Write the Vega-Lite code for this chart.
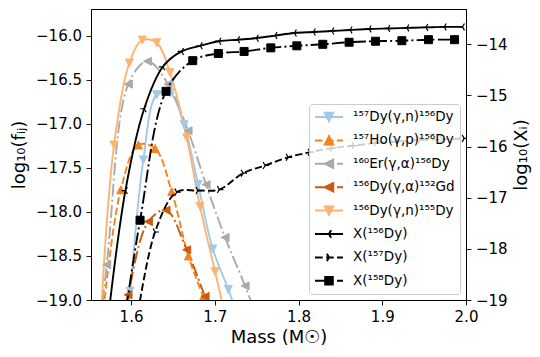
{
  "$schema": "https://vega.github.io/schema/vega-lite/v6.json",
  "width": 375,
  "height": 291,
  "autosize": {"type": "none"},
  "padding": {"left": 91, "top": 9, "right": 74, "bottom": 57},
  "background": "white",
  "config": {
    "view": {"stroke": "black", "strokeWidth": 1},
    "font": "DejaVu Sans",
    "axis": {
      "labelFont": "DejaVu Sans", "titleFont": "DejaVu Sans",
      "labelFontSize": 15, "titleFontSize": 18, "titleFontWeight": "normal",
      "labelColor": "black", "titleColor": "black",
      "tickColor": "black", "domainColor": "black",
      "tickSize": 5, "tickWidth": 0.9, "domainWidth": 1,
      "labelPadding": 4.5, "grid": false, "labelFlush": false, "labelOverlap": false
    }
  },
  "datasets": {
    "reactions": [
      {"series": "¹⁵⁷Dy(γ,n)¹⁵⁶Dy", "mass": 1.5828, "logf": -20.4},
      {"series": "¹⁵⁷Dy(γ,n)¹⁵⁶Dy", "mass": 1.5988, "logf": -18.90},
      {"series": "¹⁵⁷Dy(γ,n)¹⁵⁶Dy", "mass": 1.6147, "logf": -17.41},
      {"series": "¹⁵⁷Dy(γ,n)¹⁵⁶Dy", "mass": 1.6307, "logf": -16.67},
      {"series": "¹⁵⁷Dy(γ,n)¹⁵⁶Dy", "mass": 1.6466, "logf": -16.65},
      {"series": "¹⁵⁷Dy(γ,n)¹⁵⁶Dy", "mass": 1.6633, "logf": -17.01},
      {"series": "¹⁵⁷Dy(γ,n)¹⁵⁶Dy", "mass": 1.6801, "logf": -17.69},
      {"series": "¹⁵⁷Dy(γ,n)¹⁵⁶Dy", "mass": 1.6976, "logf": -18.42},
      {"series": "¹⁵⁷Dy(γ,n)¹⁵⁶Dy", "mass": 1.7162, "logf": -18.88},
      {"series": "¹⁵⁷Dy(γ,n)¹⁵⁶Dy", "mass": 1.734, "logf": -19.38},

      {"series": "¹⁵⁷Ho(γ,p)¹⁵⁶Dy", "mass": 1.5671, "logf": -19.11},
      {"series": "¹⁵⁷Ho(γ,p)¹⁵⁶Dy", "mass": 1.5877, "logf": -17.75},
      {"series": "¹⁵⁷Ho(γ,p)¹⁵⁶Dy", "mass": 1.6087, "logf": -17.24},
      {"series": "¹⁵⁷Ho(γ,p)¹⁵⁶Dy", "mass": 1.6287, "logf": -17.28},
      {"series": "¹⁵⁷Ho(γ,p)¹⁵⁶Dy", "mass": 1.6486, "logf": -17.77},
      {"series": "¹⁵⁷Ho(γ,p)¹⁵⁶Dy", "mass": 1.6685, "logf": -18.50},
      {"series": "¹⁵⁷Ho(γ,p)¹⁵⁶Dy", "mass": 1.6864, "logf": -18.96},
      {"series": "¹⁵⁷Ho(γ,p)¹⁵⁶Dy", "mass": 1.7063, "logf": -19.39},

      {"series": "¹⁶⁰Er(γ,α)¹⁵⁶Dy", "mass": 1.5474, "logf": -20.7},
      {"series": "¹⁶⁰Er(γ,α)¹⁵⁶Dy", "mass": 1.571, "logf": -18.60},
      {"series": "¹⁶⁰Er(γ,α)¹⁵⁶Dy", "mass": 1.5968, "logf": -16.55},
      {"series": "¹⁶⁰Er(γ,α)¹⁵⁶Dy", "mass": 1.6197, "logf": -16.29},
      {"series": "¹⁶⁰Er(γ,α)¹⁵⁶Dy", "mass": 1.6442, "logf": -16.55},
      {"series": "¹⁶⁰Er(γ,α)¹⁵⁶Dy", "mass": 1.6681, "logf": -17.08},
      {"series": "¹⁶⁰Er(γ,α)¹⁵⁶Dy", "mass": 1.6896, "logf": -17.69},
      {"series": "¹⁶⁰Er(γ,α)¹⁵⁶Dy", "mass": 1.7123, "logf": -18.29},
      {"series": "¹⁶⁰Er(γ,α)¹⁵⁶Dy", "mass": 1.7362, "logf": -18.84},
      {"series": "¹⁶⁰Er(γ,α)¹⁵⁶Dy", "mass": 1.7601, "logf": -19.45},

      {"series": "¹⁵⁶Dy(γ,α)¹⁵²Gd", "mass": 1.5737, "logf": -20.0},
      {"series": "¹⁵⁶Dy(γ,α)¹⁵²Gd", "mass": 1.5964, "logf": -18.94},
      {"series": "¹⁵⁶Dy(γ,α)¹⁵²Gd", "mass": 1.6207, "logf": -18.11},
      {"series": "¹⁵⁶Dy(γ,α)¹⁵²Gd", "mass": 1.6418, "logf": -17.98},
      {"series": "¹⁵⁶Dy(γ,α)¹⁵²Gd", "mass": 1.6665, "logf": -18.43},
      {"series": "¹⁵⁶Dy(γ,α)¹⁵²Gd", "mass": 1.6884, "logf": -18.96},
      {"series": "¹⁵⁶Dy(γ,α)¹⁵²Gd", "mass": 1.7111, "logf": -19.51},

      {"series": "¹⁵⁶Dy(γ,n)¹⁵⁵Dy", "mass": 1.5625, "logf": -19.42},
      {"series": "¹⁵⁶Dy(γ,n)¹⁵⁵Dy", "mass": 1.5797, "logf": -17.24},
      {"series": "¹⁵⁶Dy(γ,n)¹⁵⁵Dy", "mass": 1.598, "logf": -16.31},
      {"series": "¹⁵⁶Dy(γ,n)¹⁵⁵Dy", "mass": 1.6135, "logf": -16.05},
      {"series": "¹⁵⁶Dy(γ,n)¹⁵⁵Dy", "mass": 1.6307, "logf": -16.08},
      {"series": "¹⁵⁶Dy(γ,n)¹⁵⁵Dy", "mass": 1.6466, "logf": -16.42},
      {"series": "¹⁵⁶Dy(γ,n)¹⁵⁵Dy", "mass": 1.6665, "logf": -17.16},
      {"series": "¹⁵⁶Dy(γ,n)¹⁵⁵Dy", "mass": 1.6824, "logf": -17.94},
      {"series": "¹⁵⁶Dy(γ,n)¹⁵⁵Dy", "mass": 1.7004, "logf": -18.68},
      {"series": "¹⁵⁶Dy(γ,n)¹⁵⁵Dy", "mass": 1.7171, "logf": -19.37}
    ],
    "abundances": [
      {"series": "X(¹⁵⁶Dy)", "mass": 1.5711, "logX": -19.58},
      {"series": "X(¹⁵⁶Dy)", "mass": 1.5933, "logX": -16.86},
      {"series": "X(¹⁵⁶Dy)", "mass": 1.6157, "logX": -15.26},
      {"series": "X(¹⁵⁶Dy)", "mass": 1.638, "logX": -14.44},
      {"series": "X(¹⁵⁶Dy)", "mass": 1.6603, "logX": -14.14},
      {"series": "X(¹⁵⁶Dy)", "mass": 1.6827, "logX": -14.03},
      {"series": "X(¹⁵⁶Dy)", "mass": 1.705, "logX": -13.94},
      {"series": "X(¹⁵⁶Dy)", "mass": 1.7274, "logX": -13.91},
      {"series": "X(¹⁵⁶Dy)", "mass": 1.7497, "logX": -13.88},
      {"series": "X(¹⁵⁶Dy)", "mass": 1.772, "logX": -13.83},
      {"series": "X(¹⁵⁶Dy)", "mass": 1.7951, "logX": -13.78},
      {"series": "X(¹⁵⁶Dy)", "mass": 1.8178, "logX": -13.76},
      {"series": "X(¹⁵⁶Dy)", "mass": 1.8398, "logX": -13.74},
      {"series": "X(¹⁵⁶Dy)", "mass": 1.8616, "logX": -13.72},
      {"series": "X(¹⁵⁶Dy)", "mass": 1.8843, "logX": -13.70},
      {"series": "X(¹⁵⁶Dy)", "mass": 1.9067, "logX": -13.69},
      {"series": "X(¹⁵⁶Dy)", "mass": 1.9294, "logX": -13.68},
      {"series": "X(¹⁵⁶Dy)", "mass": 1.9521, "logX": -13.67},
      {"series": "X(¹⁵⁶Dy)", "mass": 1.974, "logX": -13.66},
      {"series": "X(¹⁵⁶Dy)", "mass": 1.9958, "logX": -13.66},

      {"series": "X(¹⁵⁷Dy)", "mass": 1.6027, "logX": -19.84},
      {"series": "X(¹⁵⁷Dy)", "mass": 1.6287, "logX": -17.67},
      {"series": "X(¹⁵⁷Dy)", "mass": 1.6546, "logX": -16.89},
      {"series": "X(¹⁵⁷Dy)", "mass": 1.68, "logX": -16.86},
      {"series": "X(¹⁵⁷Dy)", "mass": 1.7055, "logX": -16.84},
      {"series": "X(¹⁵⁷Dy)", "mass": 1.7338, "logX": -16.52},
      {"series": "X(¹⁵⁷Dy)", "mass": 1.7601, "logX": -16.37},
      {"series": "X(¹⁵⁷Dy)", "mass": 1.7876, "logX": -16.21},
      {"series": "X(¹⁵⁷Dy)", "mass": 1.8139, "logX": -16.11},
      {"series": "X(¹⁵⁷Dy)", "mass": 1.8401, "logX": -16.03},
      {"series": "X(¹⁵⁷Dy)", "mass": 1.8664, "logX": -15.98},
      {"series": "X(¹⁵⁷Dy)", "mass": 1.8927, "logX": -15.93},
      {"series": "X(¹⁵⁷Dy)", "mass": 1.919, "logX": -15.90},
      {"series": "X(¹⁵⁷Dy)", "mass": 1.9453, "logX": -15.87},
      {"series": "X(¹⁵⁷Dy)", "mass": 1.9716, "logX": -15.86},
      {"series": "X(¹⁵⁷Dy)", "mass": 1.9978, "logX": -15.84},

      {"series": "X(¹⁵⁸Dy)", "mass": 1.5797, "logX": -20.8},
      {"series": "X(¹⁵⁸Dy)", "mass": 1.6108, "logX": -17.44},
      {"series": "X(¹⁵⁸Dy)", "mass": 1.6418, "logX": -14.92},
      {"series": "X(¹⁵⁸Dy)", "mass": 1.6737, "logX": -14.32},
      {"series": "X(¹⁵⁸Dy)", "mass": 1.7043, "logX": -14.18},
      {"series": "X(¹⁵⁸Dy)", "mass": 1.735, "logX": -14.14},
      {"series": "X(¹⁵⁸Dy)", "mass": 1.7669, "logX": -14.07},
      {"series": "X(¹⁵⁸Dy)", "mass": 1.798, "logX": -14.03},
      {"series": "X(¹⁵⁸Dy)", "mass": 1.829, "logX": -14.0},
      {"series": "X(¹⁵⁸Dy)", "mass": 1.8604, "logX": -13.96},
      {"series": "X(¹⁵⁸Dy)", "mass": 1.8919, "logX": -13.94},
      {"series": "X(¹⁵⁸Dy)", "mass": 1.9234, "logX": -13.93},
      {"series": "X(¹⁵⁸Dy)", "mass": 1.9552, "logX": -13.91},
      {"series": "X(¹⁵⁸Dy)", "mass": 1.9863, "logX": -13.91}
    ]
  },
  "layer": [
    {
      "data": {"name": "reactions"},
      "encoding": {
        "x": {"field": "mass", "type": "quantitative",
              "scale": {"domain": [1.5522, 2.0], "nice": false, "zero": false},
              "axis": {"values": [1.6, 1.7, 1.8, 1.9, 2.0], "format": ".1f", "title": "Mass (M☉)", "titlePadding": 4}},
        "y": {"field": "logf", "type": "quantitative",
              "scale": {"domain": [-19, -15.697], "nice": false, "zero": false},
              "axis": {"orient": "left", "values": [-19, -18.5, -18, -17.5, -17, -16.5, -16], "format": ".1f", "title": "log₁₀(fᵢⱼ)", "titlePadding": 7}}
      },
      "layer": [
        {
          "transform": [{"filter": {"field": "series", "equal": "¹⁵⁷Dy(γ,n)¹⁵⁶Dy"}}],
          "mark": {"type": "line", "clip": true, "strokeWidth": 1.9, "interpolate": "catmull-rom"},
          "encoding": {"color": {"field": "series", "type": "nominal",
            "scale": {
              "domain": ["¹⁵⁷Dy(γ,n)¹⁵⁶Dy", "¹⁵⁷Ho(γ,p)¹⁵⁶Dy", "¹⁶⁰Er(γ,α)¹⁵⁶Dy", "¹⁵⁶Dy(γ,α)¹⁵²Gd", "¹⁵⁶Dy(γ,n)¹⁵⁵Dy", "X(¹⁵⁶Dy)", "X(¹⁵⁷Dy)", "X(¹⁵⁸Dy)"],
              "range": ["#a1c9ea", "#f7821e", "#aaaaaa", "#cc5a0c", "#fdb472", "#000000", "#000000", "#000000"]
            },
            "legend": {
              "orient": "bottom-right", "offset": 6, "title": null,
              "labelFont": "DejaVu Sans", "labelFontSize": 13.5, "labelColor": "black",
              "symbolSize": 784, "symbolStrokeWidth": 2, "symbolOffset": 0, "labelOffset": 9,
              "padding": 5, "rowPadding": 7.4, "clipHeight": 16,
              "strokeColor": "#cccccc", "fillColor": "rgba(255,255,255,0.8)", "cornerRadius": 3,
              "encode": {"symbols": {"update": {
                "shape": {"signal": "['M-1,0L1,0M-0.3,-0.3L0.3,-0.3L0,0.3Z','M-1,0L-0.45,0M-0.214,0L0.336,0M0.572,0L1,0M0,-0.3L0.3,0.3L-0.3,0.3Z','M-1,0L-0.05,0M0.186,0L0.336,0M0.572,0L1,0M-0.3,0L0.3,-0.3L0.3,0.3Z','M-1,0L-0.05,0M0.186,0L0.336,0M0.572,0L1,0M-0.3,0L0.3,-0.3L0.3,0.3Z','M-1,0L1,0M-0.3,-0.3L0.3,-0.3L0,0.3Z','M-1,0L1,0M0,0L-0.3,0M0,0L0.15,-0.26M0,0L0.15,0.26','M-1,0L-0.45,0M-0.214,0L0.336,0M0.572,0L1,0M0,0L0.3,0M0,0L-0.15,-0.26M0,0L-0.15,0.26','M-1,0L-0.05,0M0.186,0L0.336,0M0.572,0L1,0M-0.27,-0.27L0.27,-0.27L0.27,0.27L-0.27,0.27Z'][indexof(['¹⁵⁷Dy(γ,n)¹⁵⁶Dy','¹⁵⁷Ho(γ,p)¹⁵⁶Dy','¹⁶⁰Er(γ,α)¹⁵⁶Dy','¹⁵⁶Dy(γ,α)¹⁵²Gd','¹⁵⁶Dy(γ,n)¹⁵⁵Dy','X(¹⁵⁶Dy)','X(¹⁵⁷Dy)','X(¹⁵⁸Dy)'], datum.value)]"},
                "fill": {"signal": "scale('color', datum.value)"},
                "stroke": {"signal": "scale('color', datum.value)"},
                "strokeWidth": {"value": 2},
                "size": {"value": 784},
                "opacity": {"value": 1},
                "fillOpacity": {"value": 1},
                "strokeOpacity": {"value": 1}
              }}}
            }}}
        },
        {
          "transform": [{"filter": {"field": "series", "equal": "¹⁵⁷Ho(γ,p)¹⁵⁶Dy"}}],
          "mark": {"type": "line", "clip": true, "strokeWidth": 1.9, "interpolate": "catmull-rom", "strokeDash": [7.4, 3.2]},
          "encoding": {"color": {"field": "series", "type": "nominal"}}
        },
        {
          "transform": [{"filter": {"field": "series", "equal": "¹⁶⁰Er(γ,α)¹⁵⁶Dy"}}],
          "mark": {"type": "line", "clip": true, "strokeWidth": 1.9, "interpolate": "catmull-rom", "strokeDash": [12.8, 3.2, 2, 3.2]},
          "encoding": {"color": {"field": "series", "type": "nominal"}}
        },
        {
          "transform": [{"filter": {"field": "series", "equal": "¹⁵⁶Dy(γ,α)¹⁵²Gd"}}],
          "mark": {"type": "line", "clip": true, "strokeWidth": 1.9, "interpolate": "catmull-rom", "strokeDash": [12.8, 3.2, 2, 3.2]},
          "encoding": {"color": {"field": "series", "type": "nominal"}}
        },
        {
          "transform": [{"filter": {"field": "series", "equal": "¹⁵⁶Dy(γ,n)¹⁵⁵Dy"}}],
          "mark": {"type": "line", "clip": true, "strokeWidth": 1.9, "interpolate": "catmull-rom"},
          "encoding": {"color": {"field": "series", "type": "nominal"}}
        },
        {
          "transform": [{"filter": {"field": "series", "equal": "¹⁵⁷Dy(γ,n)¹⁵⁶Dy"}}],
          "mark": {"type": "point", "clip": true, "filled": true, "opacity": 1, "size": 64, "shape": "M-1,-1L1,-1L0,1Z", "fill": "#a1c9ea", "stroke": "#a1c9ea", "strokeWidth": 1}
        },
        {
          "transform": [{"filter": {"field": "series", "equal": "¹⁵⁷Ho(γ,p)¹⁵⁶Dy"}}],
          "mark": {"type": "point", "clip": true, "filled": true, "opacity": 1, "size": 64, "shape": "M0,-1L1,1L-1,1Z", "fill": "#f7821e", "stroke": "#f7821e", "strokeWidth": 1}
        },
        {
          "transform": [{"filter": {"field": "series", "equal": "¹⁶⁰Er(γ,α)¹⁵⁶Dy"}}],
          "mark": {"type": "point", "clip": true, "filled": true, "opacity": 1, "size": 64, "shape": "M-1,0L1,-1L1,1Z", "fill": "#aaaaaa", "stroke": "#aaaaaa", "strokeWidth": 1}
        },
        {
          "transform": [{"filter": {"field": "series", "equal": "¹⁵⁶Dy(γ,α)¹⁵²Gd"}}],
          "mark": {"type": "point", "clip": true, "filled": true, "opacity": 1, "size": 64, "shape": "M-1,0L1,-1L1,1Z", "fill": "#cc5a0c", "stroke": "#cc5a0c", "strokeWidth": 1}
        },
        {
          "transform": [{"filter": {"field": "series", "equal": "¹⁵⁶Dy(γ,n)¹⁵⁵Dy"}}],
          "mark": {"type": "point", "clip": true, "filled": true, "opacity": 1, "size": 64, "shape": "M-1,-1L1,-1L0,1Z", "fill": "#fdb472", "stroke": "#fdb472", "strokeWidth": 1}
        }
      ]
    },
    {
      "data": {"name": "abundances"},
      "encoding": {
        "x": {"field": "mass", "type": "quantitative",
              "scale": {"domain": [1.5522, 2.0], "nice": false, "zero": false}},
        "y": {"field": "logX", "type": "quantitative",
              "scale": {"domain": [-19, -13.31], "nice": false, "zero": false},
              "axis": {"orient": "right", "values": [-19, -18, -17, -16, -15, -14], "format": "d", "title": "log₁₀(Xᵢ)", "titleAngle": 270, "titleBaseline": "top", "titlePadding": 5}}
      },
      "layer": [
        {
          "transform": [{"filter": {"field": "series", "equal": "X(¹⁵⁶Dy)"}}],
          "mark": {"type": "line", "clip": true, "strokeWidth": 1.9, "interpolate": "catmull-rom"},
          "encoding": {"color": {"field": "series", "type": "nominal"}}
        },
        {
          "transform": [{"filter": {"field": "series", "equal": "X(¹⁵⁷Dy)"}}],
          "mark": {"type": "line", "clip": true, "strokeWidth": 1.9, "interpolate": "catmull-rom", "strokeDash": [7.4, 3.2]},
          "encoding": {"color": {"field": "series", "type": "nominal"}}
        },
        {
          "transform": [{"filter": {"field": "series", "equal": "X(¹⁵⁸Dy)"}}],
          "mark": {"type": "line", "clip": true, "strokeWidth": 1.9, "interpolate": "catmull-rom", "strokeDash": [12.8, 3.2, 2, 3.2]},
          "encoding": {"color": {"field": "series", "type": "nominal"}}
        },
        {
          "transform": [{"filter": {"field": "series", "equal": "X(¹⁵⁶Dy)"}}],
          "mark": {"type": "point", "clip": true, "filled": true, "opacity": 1, "size": 64, "shape": "M0,0L-1,0M0,0L0.5,-0.866M0,0L0.5,0.866", "fill": "#000000", "stroke": "#000000", "strokeWidth": 1.2}
        },
        {
          "transform": [{"filter": {"field": "series", "equal": "X(¹⁵⁷Dy)"}}],
          "mark": {"type": "point", "clip": true, "filled": true, "opacity": 1, "size": 64, "shape": "M0,0L1,0M0,0L-0.5,-0.866M0,0L-0.5,0.866", "fill": "#000000", "stroke": "#000000", "strokeWidth": 1.2}
        },
        {
          "transform": [{"filter": {"field": "series", "equal": "X(¹⁵⁸Dy)"}}],
          "mark": {"type": "point", "clip": true, "filled": true, "opacity": 1, "size": 64, "shape": "M-1,-1L1,-1L1,1L-1,1Z", "fill": "#000000", "stroke": "#000000", "strokeWidth": 1}
        }
      ]
    }
  ],
  "resolve": {"scale": {"y": "independent"}}
}
